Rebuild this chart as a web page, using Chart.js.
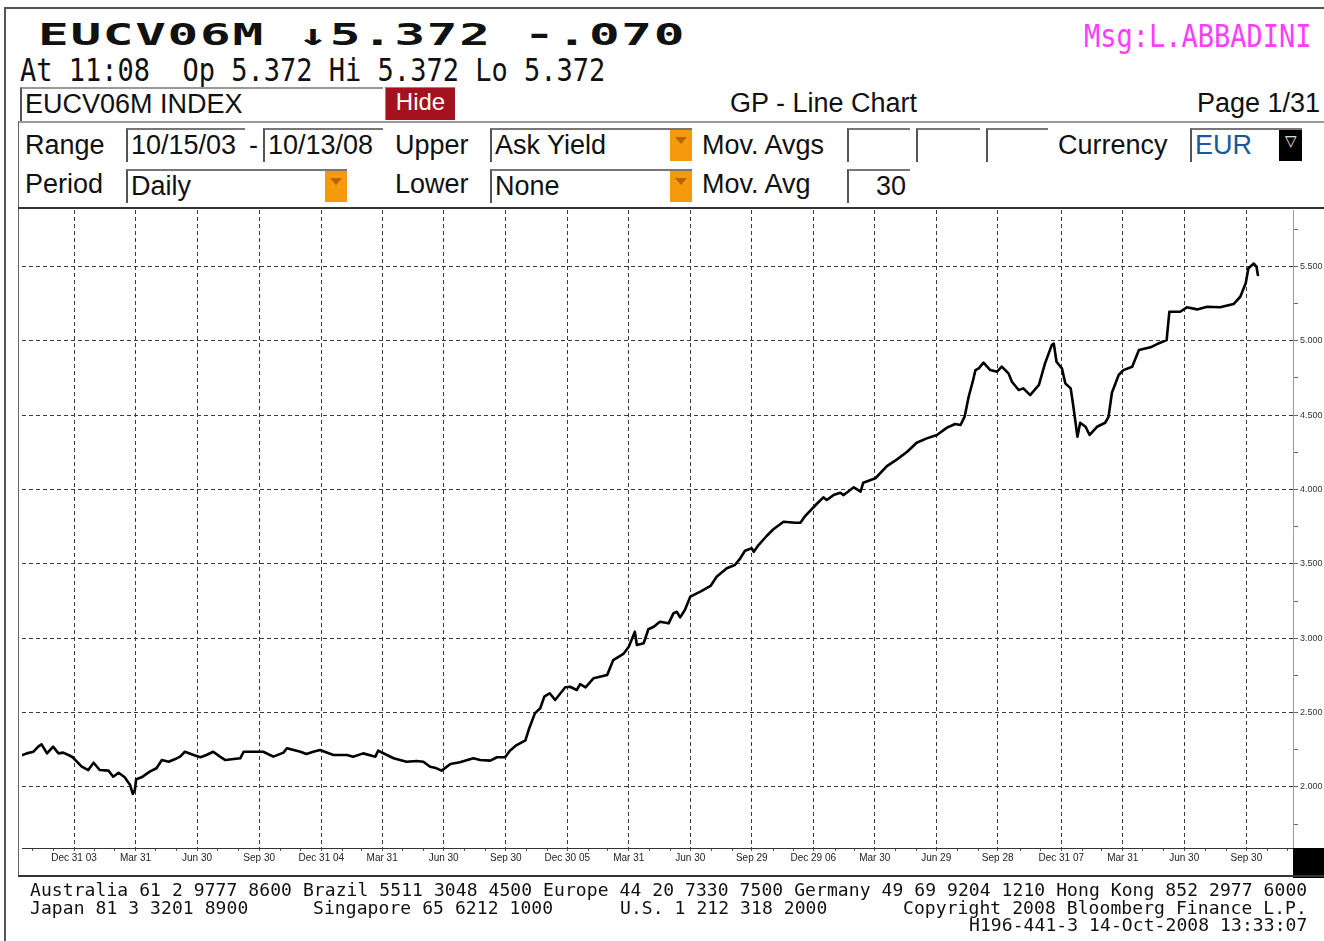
<!DOCTYPE html>
<html>
<head>
<meta charset="utf-8">
<title>EUCV06M INDEX - GP Line Chart</title>
<script src="https://cdn.jsdelivr.net/npm/chart.js@4.4.1/dist/chart.umd.min.js"></script>
<style>
  html, body { margin: 0; padding: 0; background: #fff; overflow: hidden; }
  #page { position: relative; width: 1324px; height: 941px; overflow: hidden; color: #111;
          font-family: 'Liberation Sans', Arial, sans-serif; }
  .a { position: absolute; white-space: pre; }
  .ln { position: absolute; }
  .mono { font-family: 'DejaVu Sans Mono', monospace; }
  .title { font-weight: bold; font-size: 30px; line-height: 36px; letter-spacing: 1px;
           transform: scaleX(1.7); transform-origin: 0 0; }
  .quote { font-size: 27px; line-height: 32px; transform: scaleY(1.2); transform-origin: 0 0; }
  .ui { font-size: 27px; line-height: 30px; }
  .box { position: absolute; box-sizing: border-box; height: 34px; border-top: 2px solid #777;
         border-left: 2px solid #555; font-size: 27px; line-height: 30px; padding-left: 3px; white-space: pre; }
  .drop { position: absolute; right: 0; top: 0; width: 22px; height: 31px; background: #f59a0c; }
  .drop::after { content: ''; position: absolute; left: 5px; top: 7px; border-left: 6px solid transparent;
                 border-right: 6px solid transparent; border-top: 7px solid #b56400; }
  .foot { font-family: 'DejaVu Sans Mono', monospace; font-size: 18px; line-height: 17.5px;
          letter-spacing: 0.08px; }
  #chart { position: absolute; left: 0; top: 200px; }
</style>
</head>
<body>
<div id="page">
  <!-- frame -->
  <div class="ln" style="left:4px;top:7px;width:1320px;height:2px;background:#555"></div>
  <div class="ln" style="left:4px;top:7px;width:2px;height:934px;background:#555"></div>
  <div class="ln" style="left:18px;top:121px;width:1306px;height:2px;background:#999"></div>
  <div class="ln" style="left:18px;top:121px;width:1px;height:755px;background:#666"></div>
  <div class="ln" style="left:18px;top:207px;width:1306px;height:2px;background:#333"></div>

  <!-- quote header -->
  <div class="a mono title" style="left:38px;top:17px">EUCV06M ↓5.372 -.070</div>
  <div class="a mono quote" style="left:20px;top:51px">At 11:08  Op 5.372 Hi 5.372 Lo 5.372</div>
  <div class="a mono quote" style="left:1084px;top:17px;color:#ff3cff">Msg:L.ABBADINI</div>

  <!-- security row -->
  <div class="box" style="left:20px;top:87px;width:363px;border-top-color:#999">EUCV06M INDEX</div>
  <div class="a" style="left:385px;top:87px;width:70px;height:33px;background:#a5121f;border-top:1px solid #d66;
       border-left:1px solid #d66;box-sizing:border-box;color:#fff;font-size:24px;line-height:28px;text-align:center">Hide</div>
  <div class="a ui" style="left:730px;top:88px">GP - Line Chart</div>
  <div class="a ui" style="left:1197px;top:88px">Page 1/31</div>

  <!-- range row -->
  <div class="a ui" style="left:25px;top:130px">Range</div>
  <div class="box" style="left:126px;top:128px;width:119px">10/15/03</div>
  <div class="a ui" style="left:249px;top:130px">-</div>
  <div class="box" style="left:263px;top:128px;width:120px">10/13/08</div>
  <div class="a ui" style="left:395px;top:130px">Upper</div>
  <div class="box" style="left:490px;top:128px;width:202px">Ask Yield<div class="drop"></div></div>
  <div class="a ui" style="left:702px;top:130px">Mov. Avgs</div>
  <div class="box" style="left:847px;top:128px;width:63px"></div>
  <div class="box" style="left:916px;top:128px;width:64px"></div>
  <div class="box" style="left:986px;top:128px;width:62px"></div>
  <div class="a ui" style="left:1058px;top:130px">Currency</div>
  <div class="box" style="left:1190px;top:128px;width:112px;color:#1d5799">EUR<div class="a" style="right:0;top:0;width:23px;height:31px;background:#000;color:#fff;font-size:15px;line-height:22px;text-align:center">▽</div></div>

  <!-- period row -->
  <div class="a ui" style="left:25px;top:169px">Period</div>
  <div class="box" style="left:126px;top:169px;width:221px">Daily<div class="drop"></div></div>
  <div class="a ui" style="left:395px;top:169px">Lower</div>
  <div class="box" style="left:490px;top:169px;width:202px">None<div class="drop"></div></div>
  <div class="a ui" style="left:702px;top:169px">Mov. Avg</div>
  <div class="box" style="left:847px;top:169px;width:63px;text-align:right;padding-right:4px">30</div>

  <canvas id="chart" width="1350" height="680" style="width:1350px;height:680px"></canvas>

  <div class="ln" style="left:1293px;top:848px;width:31px;height:30px;background:#000"></div>
  <div class="ln" style="left:18px;top:875px;width:1306px;height:2px;background:#333"></div>

  <!-- footer -->
  <div class="a foot" style="left:30px;top:881px">Australia 61 2 9777 8600 Brazil 5511 3048 4500 Europe 44 20 7330 7500 Germany 49 69 9204 1210 Hong Kong 852 2977 6000</div>
  <div class="a foot" style="left:30px;top:898.5px">Japan 81 3 3201 8900</div>
  <div class="a foot" style="left:313px;top:898.5px">Singapore 65 6212 1000</div>
  <div class="a foot" style="left:620px;top:898.5px">U.S. 1 212 318 2000</div>
  <div class="a foot" style="left:903px;top:898.5px">Copyright 2008 Bloomberg Finance L.P.</div>
  <div class="a foot" style="left:969px;top:916px">H196-441-3 14-Oct-2008 13:33:07</div>
</div>

<script>
// first day of the range
const START = '2003-10-15';

// calendar days after START (last day shown on the axis)
const X_MAX = 1881;

// ask yield, sampled off the chart: days after START
const DAYS = [
  1, 7, 17, 24, 29, 37, 46, 54, 61, 71,
  75, 88, 98, 106, 115, 128, 135, 143, 152, 160,
  164, 167, 169, 177, 189, 199, 207, 217, 226, 234,
  241, 254, 264, 273, 283, 293, 301, 323, 328, 357,
  372, 387, 392, 402, 412, 421, 431, 441, 461, 481,
  490, 505, 523, 527, 540, 550, 569, 584, 594, 604,
  611, 621, 634, 648, 668, 678, 693, 703, 715, 722,
  732, 745, 750, 759, 767, 773, 781, 789, 804, 811,
  821, 826, 834, 846, 866, 875, 890, 898, 904, 907,
  910, 920, 927, 935, 944, 957, 964, 969, 974, 981,
  989, 1004, 1019, 1028, 1043, 1055, 1063, 1070, 1080, 1083,
  1090, 1102, 1112, 1127, 1144, 1152, 1159, 1176, 1186, 1191,
  1201, 1211, 1216, 1231, 1241, 1245, 1263, 1280, 1295, 1310,
  1324, 1339, 1354, 1369, 1381, 1389, 1395, 1401, 1407, 1411,
  1416, 1423, 1433, 1443, 1450, 1460, 1465, 1475, 1482, 1492,
  1505, 1514, 1524, 1527, 1531, 1539, 1544, 1552, 1556, 1562,
  1566, 1574, 1580, 1591, 1603, 1608, 1613, 1623, 1630, 1643,
  1653, 1670, 1680, 1694, 1698, 1714, 1724, 1739, 1754, 1773,
  1793, 1803, 1811, 1815, 1823, 1827, 1829,
];

// ask yield (%)
const VALUES = [
  2.215, 2.226, 2.237, 2.271, 2.287, 2.226, 2.271, 2.226, 2.231, 2.210,
  2.200, 2.138, 2.114, 2.163, 2.114, 2.110, 2.069, 2.096, 2.065, 2.013,
  1.953, 1.980, 2.052, 2.065, 2.103, 2.126, 2.181, 2.170, 2.186, 2.204,
  2.237, 2.215, 2.200, 2.215, 2.237, 2.204, 2.181, 2.193, 2.237, 2.237,
  2.204, 2.231, 2.260, 2.249, 2.237, 2.222, 2.237, 2.249, 2.215, 2.215,
  2.204, 2.226, 2.204, 2.244, 2.215, 2.193, 2.170, 2.175, 2.170, 2.136,
  2.130, 2.110, 2.155, 2.166, 2.193, 2.181, 2.177, 2.200, 2.200, 2.244,
  2.282, 2.314, 2.386, 2.495, 2.529, 2.607, 2.630, 2.585, 2.670, 2.674,
  2.652, 2.692, 2.670, 2.731, 2.753, 2.853, 2.894, 2.943, 3.010, 3.044,
  2.954, 2.966, 3.060, 3.077, 3.111, 3.100, 3.167, 3.178, 3.140, 3.190,
  3.279, 3.313, 3.351, 3.413, 3.470, 3.492, 3.537, 3.588, 3.604, 3.581,
  3.626, 3.687, 3.732, 3.783, 3.776, 3.776, 3.821, 3.902, 3.947, 3.929,
  3.962, 3.978, 3.962, 4.014, 3.985, 4.045, 4.075, 4.157, 4.202, 4.253,
  4.314, 4.343, 4.366, 4.415, 4.440, 4.433, 4.489, 4.623, 4.724, 4.802,
  4.814, 4.852, 4.802, 4.791, 4.825, 4.780, 4.724, 4.668, 4.679, 4.634,
  4.702, 4.847, 4.970, 4.980, 4.858, 4.814, 4.713, 4.679, 4.556, 4.354,
  4.448, 4.421, 4.366, 4.421, 4.448, 4.488, 4.650, 4.769, 4.802, 4.825,
  4.937, 4.955, 4.977, 5.004, 5.194, 5.194, 5.224, 5.210, 5.228, 5.224,
  5.246, 5.295, 5.385, 5.486, 5.518, 5.497, 5.441,
];

// labelled quarter ends on the date axis
const X_TICK_DATES = [
  '2003-12-31', '2004-03-31', '2004-06-30', '2004-09-30', '2004-12-31',
  '2005-03-31', '2005-06-30', '2005-09-30', '2005-12-30', '2006-03-31',
  '2006-06-30', '2006-09-29', '2006-12-29', '2007-03-30', '2007-06-29',
  '2007-09-28', '2007-12-31', '2008-03-31', '2008-06-30', '2008-09-30',
];
const X_TICK_LABELS = [
  'Dec 31 03', 'Mar 31', 'Jun 30', 'Sep 30', 'Dec 31 04',
  'Mar 31', 'Jun 30', 'Sep 30', 'Dec 30 05', 'Mar 31',
  'Jun 30', 'Sep 29', 'Dec 29 06', 'Mar 30', 'Jun 29',
  'Sep 28', 'Dec 31 07', 'Mar 31', 'Jun 30', 'Sep 30',
];

// right axis labels
const Y_TICK_LABELS = ['2.000', '2.500', '3.000', '3.500', '4.000', '4.500', '5.000', '5.500'];
const Y_MIN = 1.59, Y_MAX = 5.878;

(() => {
  'use strict';

  const t0 = Date.parse(START + 'T00:00:00Z');
  const day_of = (s) => Math.round((Date.parse(s + 'T00:00:00Z') - t0) / 86400000);

  // major x ticks carry labels, month ends in between are minor
  const major_x = X_TICK_DATES.map(day_of);
  const x_labels = new Map(major_x.map((d, i) => [d, X_TICK_LABELS[i]]));
  const minor_x = [];
  for (let y = 2003; y <= 2008; y++) {
    for (let m = 0; m < 12; m++) {
      const d = Math.round((Date.UTC(y, m + 1, 0) - t0) / 86400000);
      if (d < 0 || d > X_MAX) continue;
      if (major_x.some((v) => Math.abs(v - d) < 6)) continue;
      minor_x.push(d);
    }
  }
  const x_ticks = major_x.concat(minor_x).sort((a, b) => a - b);

  // y ticks every .25, labels and grid every .5
  const major_y = Y_TICK_LABELS.map(parseFloat);
  const y_ticks = major_y.map((v) => v - 0.25).concat(major_y, [5.75]).sort((a, b) => a - b);
  const is_major_y = (v) => major_y.some((m) => Math.abs(m - v) < 1e-6);

  const points = DAYS.map((d, i) => ({ x: d, y: VALUES[i] }));

  new Chart(document.getElementById('chart'), {
    type: 'line',
    data: {
      datasets: [{
        data: points,
        borderColor: '#000',
        borderWidth: 2.6,
        borderJoinStyle: 'round',
        borderCapStyle: 'round',
        pointRadius: 0,
        tension: 0,
        fill: false,
      }],
    },
    options: {
      responsive: false,
      animation: false,
      devicePixelRatio: 1,
      layout: { padding: { left: 22, top: 10, right: 0, bottom: 0 } },
      plugins: {
        legend: { display: false },
        tooltip: { enabled: false },
      },
      scales: {
        x: {
          type: 'linear',
          position: 'bottom',
          min: 0,
          max: X_MAX,
          afterBuildTicks: (s) => { s.ticks = x_ticks.map((v) => ({ value: v })); },
          afterFit: (s) => { s.height = 32; },
          grid: {
            color: (ctx) => (ctx.tick && x_labels.has(ctx.tick.value)) ? '#3a3a3a' : 'transparent',
            lineWidth: 1,
            tickColor: '#555',
            tickLength: (ctx) => (ctx.tick && x_labels.has(ctx.tick.value)) ? 5 : 3,
          },
          border: { display: true, color: '#333', width: 1, dash: [4, 3] },
          ticks: {
            autoSkip: false,
            maxRotation: 0,
            padding: 1,
            color: '#222',
            font: { family: "'Liberation Sans', Arial, sans-serif", size: 10 },
            callback: (v) => x_labels.get(v) ?? '',
          },
        },
        y: {
          type: 'linear',
          position: 'right',
          min: Y_MIN,
          max: Y_MAX,
          afterBuildTicks: (s) => { s.ticks = y_ticks.map((v) => ({ value: v })); },
          afterFit: (s) => { s.width = 57; },
          grid: {
            color: (ctx) => (ctx.tick && is_major_y(ctx.tick.value)) ? '#3a3a3a' : 'transparent',
            lineWidth: 1,
            tickColor: '#666',
            tickLength: 5,
          },
          border: { display: true, color: '#9a9a9a', width: 1, dash: [4, 3] },
          ticks: {
            autoSkip: false,
            padding: 2,
            color: '#333',
            font: { family: "'Liberation Sans', Arial, sans-serif", size: 9 },
            callback: (v) => is_major_y(v) ? v.toFixed(3) : '',
          },
        },
      },
    },
  });
})();
</script>
</body>
</html>
